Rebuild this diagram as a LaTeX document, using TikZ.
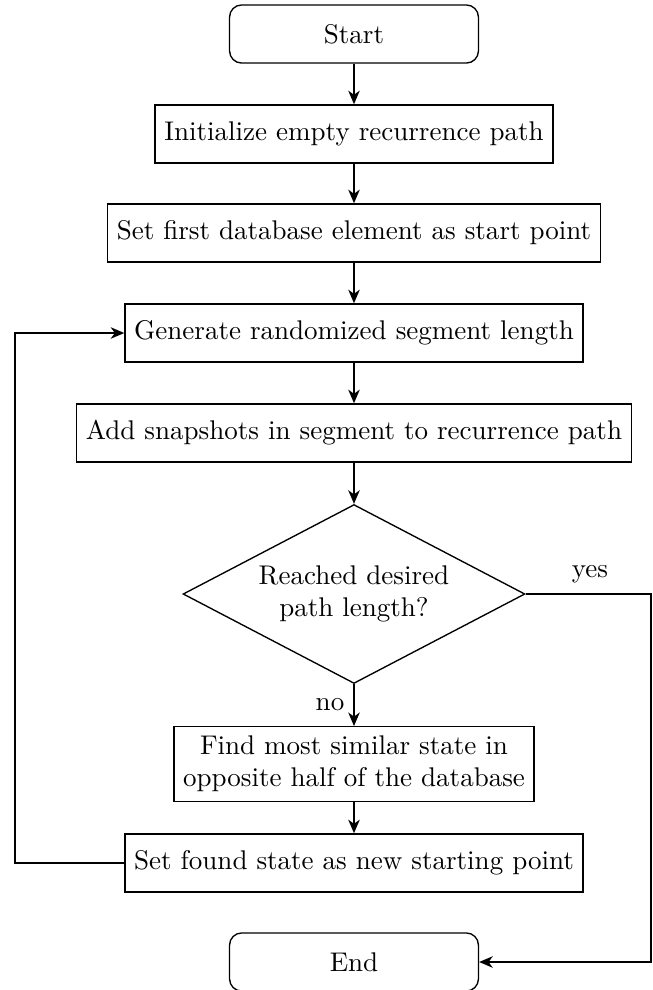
\documentclass[tikz,border=0pt]{standalone}
\usetikzlibrary{shapes.geometric,arrows.meta}
\begin{document}
\begin{tikzpicture}[x=0.37pt,y=-0.37pt,
  procbox/.style={draw,line width=0.5pt,rectangle,minimum height=21.5pt,inner xsep=3.4pt,align=center},
  termbox/.style={draw,line width=0.5pt,rectangle,rounded corners=4.5pt,minimum width=92.1pt,minimum height=21.5pt},
  decbox/.style={draw,line width=0.5pt,diamond,aspect=1.9,minimum width=126.5pt,minimum height=66.2pt,inner sep=0pt,align=center},
  conn/.style={line width=0.8pt,-{Stealth[length=5pt,width=4.2pt,inset=1.5pt]}},
  lbl/.style={inner sep=0pt}]
\useasboundingbox (0,0) rectangle (653,990);
\node[termbox] (start) at (354,34) {Start};
\node[procbox] (init) at (354,134) {Initialize empty recurrence path};
\node[procbox] (first) at (354,233) {Set first database element as start point};
\node[procbox] (gen) at (354,333) {Generate randomized segment length};
\node[procbox] (add) at (354,433) {Add snapshots in segment to recurrence path};
\node[decbox] (dec) at (354,594) {Reached desired\\path length?};
\node[procbox] (find) at (354,764) {Find most similar state in\\opposite half of the database};
\node[procbox] (found) at (354,863) {Set found state as new starting point};
\node[termbox] (end) at (354,962) {End};
\coordinate (lc1) at (15,863);
\coordinate (lc2) at (15,333);
\coordinate (rc1) at (651,594);
\coordinate (rc2) at (651,962);
\draw[conn] (start) -- (init);
\draw[conn] (init) -- (first);
\draw[conn] (first) -- (gen);
\draw[conn] (gen) -- (add);
\draw[conn] (add) -- (dec);
\draw[conn] (dec) -- (find);
\draw[conn] (find) -- (found);
\draw[conn] (found.west) -- (lc1) -- (lc2) -- (gen.west);
\draw[conn] (dec.east) -- (rc1) -- (rc2) -- (end.east);
\node[lbl] (yes) at (590,574) {yes};
\node[lbl] (no) at (330,705) {no};
\end{tikzpicture}
\end{document}
